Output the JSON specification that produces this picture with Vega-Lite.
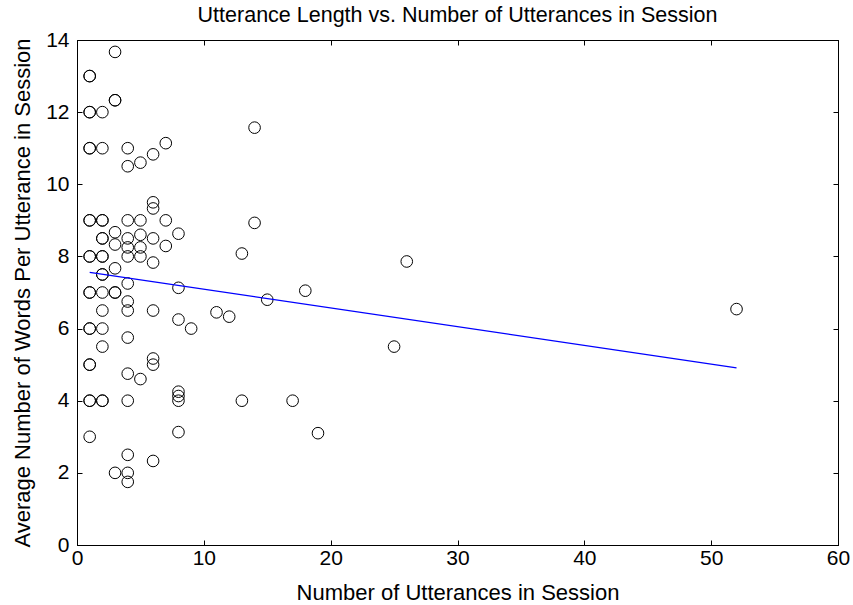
{
  "$schema": "https://vega.github.io/schema/vega-lite/v6.json",
  "width": 761,
  "height": 505,
  "autosize": {"type": "none"},
  "padding": {"left": 77, "top": 40, "right": 15, "bottom": 60},
  "background": "white",
  "title": {"text": "Utterance Length vs. Number of Utterances in Session", "font": "Liberation Sans", "fontSize": 21.5, "fontWeight": "normal", "color": "black", "offset": 3},
  "config": {
    "view": {"stroke": "black", "strokeWidth": 1},
    "axis": {"labelFont": "Liberation Sans", "titleFont": "Liberation Sans", "labelFontSize": 21, "titleFontSize": 22, "titleFontWeight": "normal", "labelColor": "black", "titleColor": "black", "domainColor": "black", "tickColor": "black", "grid": false}
  },
  "datasets": {
    "pts": [
      {"n":1,"words":13},{"n":1,"words":13},{"n":1,"words":12},{"n":1,"words":12},{"n":1,"words":11},{"n":1,"words":11},{"n":1,"words":9},{"n":1,"words":9},{"n":1,"words":8},{"n":1,"words":8},{"n":1,"words":7},{"n":1,"words":7},{"n":1,"words":6},{"n":1,"words":6},{"n":1,"words":5},{"n":1,"words":5},{"n":1,"words":4},{"n":1,"words":4},{"n":1,"words":3},
      {"n":2,"words":12},{"n":2,"words":11},{"n":2,"words":9},{"n":2,"words":9},{"n":2,"words":8.5},{"n":2,"words":8.5},{"n":2,"words":8},{"n":2,"words":8},{"n":2,"words":7.5},{"n":2,"words":7.5},{"n":2,"words":7},{"n":2,"words":6.5},{"n":2,"words":6},{"n":2,"words":5.5},{"n":2,"words":4},{"n":2,"words":4},
      {"n":3,"words":13.67},{"n":3,"words":12.33},{"n":3,"words":12.33},{"n":3,"words":8.67},{"n":3,"words":8.33},{"n":3,"words":7.67},{"n":3,"words":7},{"n":3,"words":7},{"n":3,"words":2},
      {"n":4,"words":11},{"n":4,"words":10.5},{"n":4,"words":9},{"n":4,"words":8.5},{"n":4,"words":8.25},{"n":4,"words":8},{"n":4,"words":7.25},{"n":4,"words":6.75},{"n":4,"words":6.5},{"n":4,"words":5.75},{"n":4,"words":4.75},{"n":4,"words":4},{"n":4,"words":2.5},{"n":4,"words":2},{"n":4,"words":1.75},
      {"n":5,"words":10.6},{"n":5,"words":9},{"n":5,"words":8.6},{"n":5,"words":8.25},{"n":5,"words":8},{"n":5,"words":4.6},
      {"n":6,"words":10.83},{"n":6,"words":9.5},{"n":6,"words":9.33},{"n":6,"words":8.5},{"n":6,"words":7.83},{"n":6,"words":6.5},{"n":6,"words":5.17},{"n":6,"words":5},{"n":6,"words":2.33},
      {"n":7,"words":11.14},{"n":7,"words":9},{"n":7,"words":8.29},
      {"n":8,"words":8.63},{"n":8,"words":7.13},{"n":8,"words":6.25},{"n":8,"words":4.25},{"n":8,"words":4.13},{"n":8,"words":4},{"n":8,"words":3.13},
      {"n":9,"words":6},{"n":11,"words":6.45},{"n":12,"words":6.33},{"n":13,"words":8.08},{"n":13,"words":4},{"n":14,"words":11.57},{"n":14,"words":8.93},{"n":15,"words":6.8},{"n":17,"words":4},{"n":18,"words":7.05},{"n":19,"words":3.1},{"n":25,"words":5.5},{"n":26,"words":7.86},{"n":52,"words":6.54}
    ],
    "fit": [{"n":1,"words":7.56},{"n":52,"words":4.91}]
  },
  "resolve": {"axis": {"x": "independent", "y": "independent"}},
  "layer": [
    {
      "data": {"name": "pts"},
      "mark": {"type": "point", "shape": "circle", "filled": false, "stroke": "black", "strokeWidth": 1, "size": 135, "opacity": 1},
      "encoding": {
        "x": {"field": "n", "type": "quantitative", "scale": {"domain": [0, 60], "nice": false, "zero": false}, "axis": {"orient": "bottom", "title": "Number of Utterances in Session", "values": [0,10,20,30,40,50,60], "tickSize": -5, "labelPadding": 7, "titlePadding": 14, "labelFlush": false}},
        "y": {"field": "words", "type": "quantitative", "scale": {"domain": [0, 14], "nice": false, "zero": false}, "axis": {"orient": "left", "title": "Average Number of Words Per Utterance in Session", "values": [0,2,4,6,8,10,12,14], "tickSize": -5, "labelPadding": 13, "titlePadding": 11, "labelFlush": false}}
      }
    },
    {
      "data": {"name": "fit"},
      "mark": {"type": "line", "color": "#0000ff", "strokeWidth": 1.3},
      "encoding": {
        "x": {"field": "n", "type": "quantitative", "axis": {"orient": "top", "title": null, "labels": false, "values": [0,10,20,30,40,50,60], "tickSize": -5}},
        "y": {"field": "words", "type": "quantitative", "axis": {"orient": "right", "title": null, "labels": false, "values": [0,2,4,6,8,10,12,14], "tickSize": -5}}
      }
    }
  ]
}
